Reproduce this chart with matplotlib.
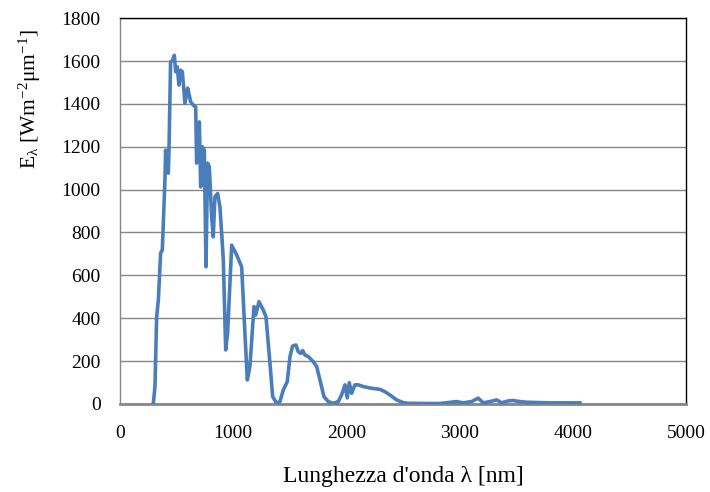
import matplotlib
matplotlib.use("Agg")
import matplotlib.pyplot as plt

plt.rcParams['font.family'] = ['Liberation Serif', 'DejaVu Serif']
plt.rcParams['mathtext.fontset'] = 'custom'
plt.rcParams['mathtext.rm'] = 'Liberation Serif'
plt.rcParams['mathtext.it'] = 'Liberation Serif:italic'

# spettro solare (lunghezza d'onda in nm, irradianza spettrale in W m-2 um-1)
lunghezza = [294, 309, 324, 339, 359, 374, 398, 403, 427, 433, 447, 465, 480, 492,
             506, 521, 536, 551, 574, 598, 612, 624, 648, 669, 677, 692, 701, 713,
             727, 745, 760, 774, 789, 810, 824, 839, 863, 883, 904, 913, 934, 951,
             987, 1031, 1075, 1104, 1125, 1148, 1184, 1199, 1228, 1266, 1290, 1325,
             1349, 1384, 1413, 1443, 1478, 1502, 1525, 1555, 1575, 1596, 1614, 1634,
             1664, 1708, 1738, 1767, 1802, 1840, 1885, 1929, 1958, 1988, 2008, 2026,
             2047, 2076, 2105, 2149, 2223, 2297, 2341, 2385, 2444, 2503, 2547, 2700,
             2827, 2974, 3033, 3107, 3165, 3209, 3268, 3328, 3372, 3430, 3474, 3533,
             3593, 3800, 4064]
irradianza = [0, 80, 407, 485, 704, 718, 1060, 1184, 1077, 1184, 1596, 1604, 1627, 1550,
              1573, 1488, 1557, 1550, 1403, 1474, 1441, 1410, 1394, 1386, 1124, 1184, 1316, 1013,
              1200, 1184, 640, 1124, 1107, 873, 780, 967, 982, 920, 751, 671, 252, 330,
              741, 695, 640, 330, 112, 174, 454, 415, 477, 438, 407, 191,
              34, 3, 11, 65, 104, 221, 270, 275, 244, 236, 249, 228,
              221, 197, 174, 112, 34, 11, 3, 11, 42, 89, 28, 99,
              50, 89, 89, 81, 73, 68, 57, 42, 19, 6, 3, 2,
              2, 11, 5, 11, 27, 5, 11, 19, 5, 14, 16, 11,
              8, 5, 5]

x_ticks = [0, 1000, 2000, 3000, 4000, 5000]
y_ticks = [0, 200, 400, 600, 800, 1000, 1200, 1400, 1600, 1800]

fig = plt.figure(figsize=(7.10, 4.92), dpi=100)
ax = fig.add_axes([0.169, 0.179, 0.797, 0.784])

ax.plot(lunghezza, irradianza, color='#4A7EBB', linewidth=2.6, solid_joinstyle='round', zorder=3)

ax.set_xlim(0, 5000)
ax.set_ylim(0, 1800)
ax.set_xticks(x_ticks)
ax.set_yticks(y_ticks)
ax.yaxis.grid(True, color='#868686', linewidth=1.0)
ax.set_axisbelow(True)
ax.tick_params(axis='both', length=0, labelsize=14)
ax.tick_params(axis='x', pad=15)
ax.tick_params(axis='y', pad=14)

for lato in ['top', 'right']:
    ax.spines[lato].set_color('black')
    ax.spines[lato].set_linewidth(1.0)
for lato in ['left', 'bottom']:
    ax.spines[lato].set_color('#868686')
ax.spines['left'].set_linewidth(1.0)
ax.spines['bottom'].set_linewidth(2.0)

ax.set_xlabel("Lunghezza d'onda λ [nm]", fontsize=17)
ax.set_ylabel(r"E$_{\mathrm{λ}}$ [Wm$^{\mathrm{-2}}$μm$^{\mathrm{-1}}$]", fontsize=15.5)
ax.xaxis.set_label_coords(0.5, -0.162)
ax.yaxis.set_label_coords(-0.136, 0.79)

fig.savefig("out.png", dpi=100)
